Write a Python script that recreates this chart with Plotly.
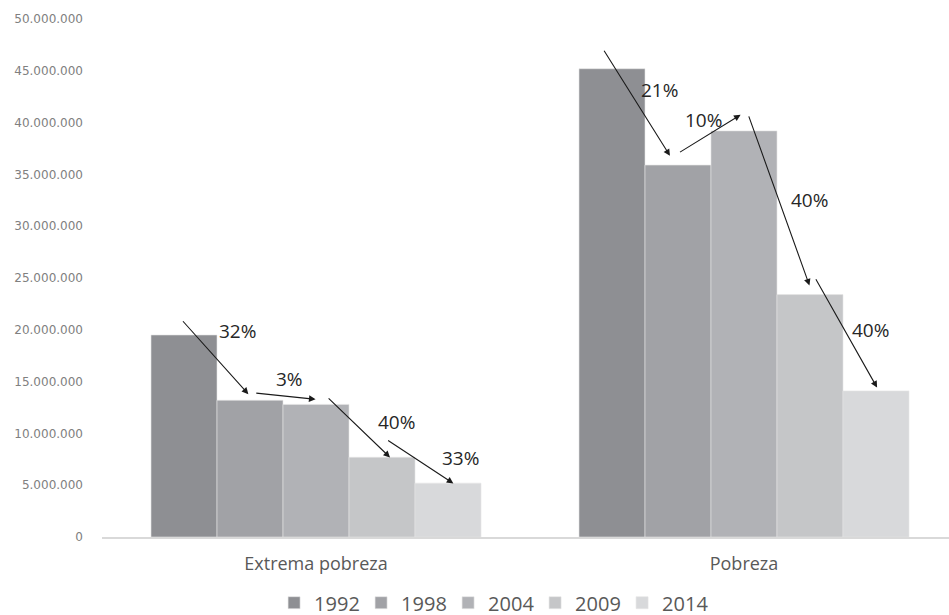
import plotly.graph_objects as go

categories = ["Extrema pobreza", "Pobreza"]
years = ["1992", "1998", "2004", "2009", "2014"]
v1992 = [19500000, 45200000]
v1998 = [13200000, 35900000]
v2004 = [12800000, 39200000]
v2009 = [7700000, 23400000]
v2014 = [5200000, 14100000]
series = [v1992, v1998, v2004, v2009, v2014]
colors = ["#8e8f93", "#a1a2a6", "#b1b2b6", "#c5c6c8", "#d8d9db"]

y_ticks = [0, 5000000, 10000000, 15000000, 20000000, 25000000,
           30000000, 35000000, 40000000, 45000000, 50000000]

# arrows: (tail x, tail y, head x, head y) in category units / data values
arrow_tail_x = [-0.314, -0.143, 0.026, 0.165, 0.671, 0.847, 1.010, 1.166]
arrow_tail_y = [20970000, 13900000, 13520000, 9410000, 47080000, 37060000, 40750000, 25020000]
arrow_head_x = [-0.158, -0.001, 0.173, 0.321, 0.827, 0.992, 1.153, 1.311]
arrow_head_y = [13780000, 13290000, 7680000, 5170000, 36800000, 40750000, 24280000, 14420000]

pct_labels = ["32%", "3%", "40%", "33%", "21%", "10%", "40%", "40%"]
pct_x = [-0.183, -0.061, 0.189, 0.338, 0.802, 0.905, 1.154, 1.296]
pct_y = [19850000, 15290000, 11110000, 7640000, 43130000, 40240000, 32530000, 19940000]

fig = go.Figure()
for yr, vals, col in zip(years, series, colors):
    fig.add_trace(go.Bar(
        x=categories, y=vals, name=yr,
        marker=dict(color=col, line=dict(width=0.6, color="#e6e6e6")),
    ))

annotations = []
for tx, ty, hx, hy in zip(arrow_tail_x, arrow_tail_y, arrow_head_x, arrow_head_y):
    annotations.append(dict(
        x=hx, y=hy, ax=tx, ay=ty, xref="x", yref="y", axref="x", ayref="y",
        text="", showarrow=True, arrowhead=2, arrowsize=1.2, arrowwidth=1.1,
        arrowcolor="#1a1a1a", standoff=0, startstandoff=0,
    ))
for lab, lx, ly in zip(pct_labels, pct_x, pct_y):
    annotations.append(dict(
        x=lx, y=ly, xref="x", yref="y", text=lab, showarrow=False,
        font=dict(family="Open Sans", size=19, color="#262626"),
        xanchor="center", yanchor="middle",
    ))

fig.update_layout(
    width=949, height=615,
    margin=dict(l=102, r=0, t=19, b=78),
    paper_bgcolor="white", plot_bgcolor="white",
    barmode="group", bargap=0.229, bargroupgap=0,
    separators=",.",
    showlegend=True,
    legend=dict(
        orientation="h", xref="container", yref="container",
        x=0.518, xanchor="center", y=0.02, yanchor="middle",
        font=dict(family="Open Sans", size=20, color="#595959"),
        itemwidth=30, entrywidth=42, traceorder="normal",
    ),
    annotations=annotations,
)
fig.update_xaxes(
    type="category", range=[-0.5, 1.479],
    showline=True, linecolor="#d9d9d9", linewidth=1.5,
    showgrid=False, zeroline=False, ticks="",
    tickfont=dict(family="Open Sans", size=18, color="#595959"),
    ticklabelstandoff=10, automargin=False,
)
fig.update_yaxes(
    range=[0, 50000000], tickvals=y_ticks, tickformat=",d",
    showgrid=False, zeroline=False, showline=False, ticks="",
    tickfont=dict(family="DejaVu Sans", size=12, color="#808080"),
    ticklabelstandoff=18, automargin=False,
)

fig.write_html("out.html", config={"displayModeBar": False},
               post_script="document.body.style.margin='0';")
